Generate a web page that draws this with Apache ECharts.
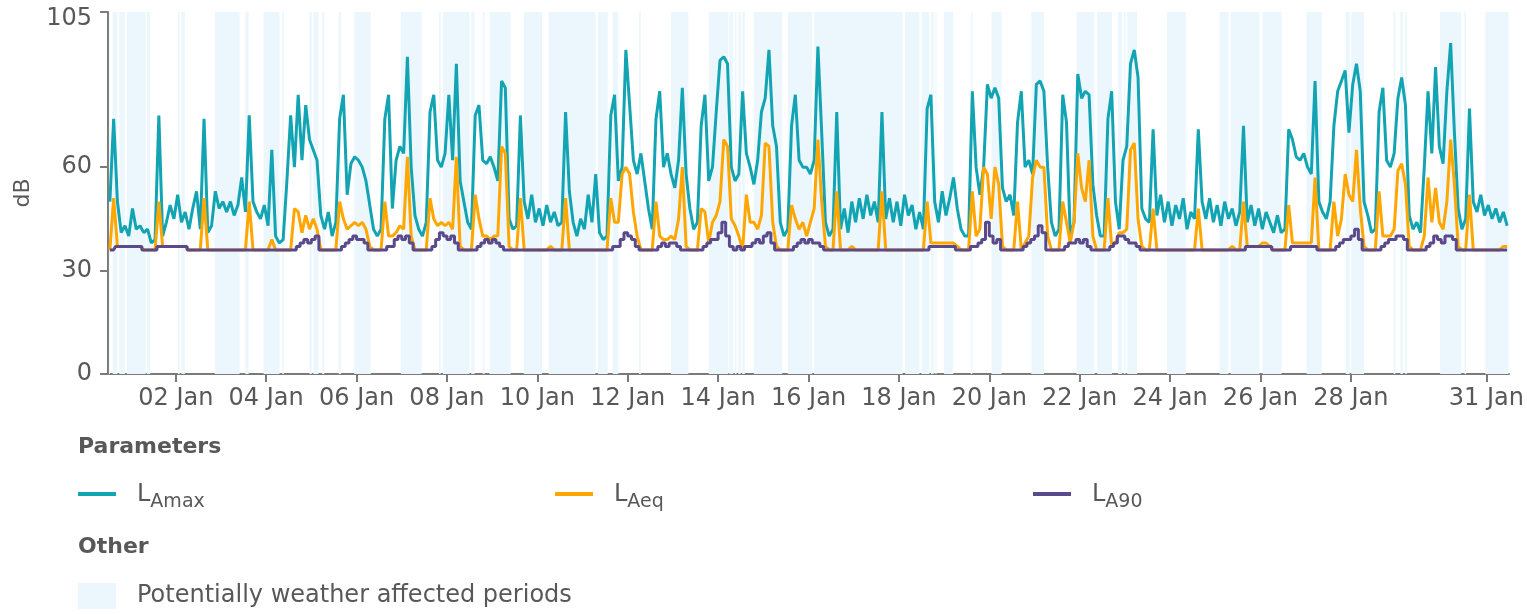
<!DOCTYPE html>
<html>
<head>
<meta charset="utf-8">
<title>Noise levels – January</title>
<script src="https://cdn.jsdelivr.net/npm/echarts@6/dist/echarts.min.js"></script>
<style>
  html, body { margin: 0; padding: 0; background: #fff; }
  #chart { width: 1527px; height: 614px; }
</style>
</head>
<body>
<div id="chart"></div>
<script>
// x axis = hours since 01 Jan 00:00, one value per 2-hour bin (12 per day)
const tickHours = [36, 84, 132, 180, 228, 276, 324, 372, 420, 468, 516, 564, 612, 660, 732];
const tickLabels = ['02 Jan', '04 Jan', '06 Jan', '08 Jan', '10 Jan', '12 Jan', '14 Jan', '16 Jan',
  '18 Jan', '20 Jan', '22 Jan', '24 Jan', '26 Jan', '28 Jan', '31 Jan'];
const yTicks = [0, 30, 60, 105];

const LAmax = [
  50,74,50,41,43,40,48,42,43,41,42,38,
  39,75,40,44,49,45,52,44,47,42,48,53,
  42,74,41,43,53,48,50,47,50,46,49,57,
  47,75,50,47,45,49,43,65,40,38,39,56,
  75,60,81,62,78,68,65,62,46,42,47,40,
  44,74,81,52,61,63,62,60,56,49,42,40,
  42,74,81,48,62,66,64,92,60,46,42,40,
  44,76,81,62,60,64,81,62,90,56,50,44,
  42,75,78,62,61,63,60,56,85,83,45,42,
  43,75,50,45,52,44,48,43,49,44,47,43,
  44,76,53,44,40,45,42,52,44,58,41,39,
  40,75,81,56,60,94,78,62,58,64,56,48,
  42,74,82,60,64,58,54,62,83,58,48,42,
  44,72,81,56,60,76,91,92,90,60,56,58,
  82,64,60,55,62,76,80,94,72,66,44,40,
  42,72,81,62,60,60,58,62,95,70,44,40,
  42,76,42,48,41,50,44,51,45,52,46,50,
  44,76,45,51,44,50,43,52,46,49,42,47,
  42,77,81,50,44,53,46,51,57,48,42,40,
  40,82,60,52,60,84,80,83,80,54,50,52,
  46,73,82,60,62,58,84,85,82,60,44,40,
  42,81,73,40,44,87,80,82,81,55,46,40,
  40,74,82,50,42,62,66,90,94,86,48,45,
  44,71,46,52,44,50,43,49,45,51,42,47,
  45,71,50,45,51,44,49,43,50,45,48,43,
  47,72,44,49,43,48,42,47,44,41,46,41,
  42,71,68,63,62,64,60,58,85,50,47,45,
  50,72,82,85,88,70,84,90,82,50,46,41,
  42,76,83,62,60,64,80,86,78,46,42,44,
  41,60,82,64,89,66,61,82,96,70,48,42,
  45,77,50,47,52,46,49,45,48,44,47,43
];

const LAeq = [
  36,51,37,37,37,37,37,37,37,36,36,36,
  36,50,37,37,37,37,37,37,37,36,36,36,
  36,51,36,36,36,36,36,36,36,36,36,36,
  36,50,36,36,36,36,36,39,36,36,36,36,
  36,48,47,41,46,42,45,42,36,36,36,36,
  36,50,45,42,43,44,43,44,42,37,36,36,
  36,50,40,40,41,43,42,63,40,36,36,36,
  36,51,45,43,44,43,44,42,63,37,36,36,
  36,52,45,40,40,39,40,40,66,64,37,36,
  36,51,36,36,36,36,36,36,36,37,36,36,
  36,51,36,36,36,36,36,36,36,36,36,36,
  36,51,44,44,58,60,58,47,40,36,36,36,
  36,50,40,39,39,40,39,45,60,37,36,36,
  36,48,47,38,44,46,50,68,66,45,43,40,
  36,52,44,44,42,46,67,66,44,37,36,36,
  36,49,45,42,44,40,44,48,68,50,37,36,
  36,53,36,36,36,37,36,36,36,36,36,36,
  36,53,36,36,36,36,36,36,36,36,36,36,
  36,50,38,38,38,38,38,38,38,37,36,36,
  36,53,40,42,60,58,45,60,55,37,36,36,
  36,50,36,38,40,57,62,60,60,40,36,36,
  36,50,44,38,44,64,54,50,62,40,36,36,
  36,51,37,38,41,41,42,65,67,45,37,36,
  36,48,36,36,36,36,36,36,36,36,36,36,
  36,48,36,36,36,36,36,36,36,36,37,36,
  36,50,37,37,37,37,38,38,37,36,36,36,
  36,49,38,38,38,38,38,38,57,36,36,36,
  36,50,40,45,58,52,50,65,48,37,36,36,
  36,53,40,40,40,42,59,61,55,37,36,36,
  36,40,57,44,54,44,42,50,68,55,37,36,
  36,52,36,36,36,36,36,36,36,36,37,37
];

const LA90 = [
  36,36,37,37,37,37,37,37,37,36,36,36,
  36,37,37,37,37,37,37,37,37,36,36,36,
  36,36,36,36,36,36,36,36,36,36,36,36,
  36,36,36,36,36,36,36,36,36,36,36,36,
  36,36,37,38,39,38,39,40,36,36,36,36,
  36,36,37,38,39,40,39,39,38,36,36,36,
  36,36,37,37,39,40,39,40,38,36,36,36,
  36,36,37,39,41,40,39,40,38,36,36,36,
  36,36,37,38,39,38,39,38,37,36,36,36,
  36,36,36,36,36,36,36,36,36,36,36,36,
  36,36,36,36,36,36,36,36,36,36,36,36,
  36,36,37,37,39,41,40,39,37,36,36,36,
  36,36,37,38,37,38,38,37,36,36,36,36,
  36,36,37,38,39,39,41,44,40,37,36,37,
  36,37,37,38,39,38,40,41,38,36,36,36,
  36,36,37,38,39,38,39,38,38,37,36,36,
  36,36,36,36,36,36,36,36,36,36,36,36,
  36,36,36,36,36,36,36,36,36,36,36,36,
  36,36,37,37,37,37,37,37,37,36,36,36,
  36,37,37,38,39,44,40,38,39,36,36,36,
  36,36,36,37,38,39,40,43,41,36,36,36,
  36,36,37,38,38,39,38,39,37,36,36,36,
  36,36,37,38,40,40,39,38,38,37,36,36,
  36,36,36,36,36,36,36,36,36,36,36,36,
  36,36,36,36,36,36,36,36,36,36,36,36,
  36,36,37,37,37,37,37,37,37,36,36,36,
  36,36,37,37,37,37,37,37,37,36,36,36,
  36,36,37,38,39,39,40,42,39,36,36,36,
  36,36,37,38,39,39,40,40,39,36,36,36,
  36,36,37,38,40,39,38,40,40,39,36,36,
  36,36,36,36,36,36,36,36,36,36,36,36
];

// potentially weather affected periods, hours since 01 Jan 00:00
const weatherStart = [0.5, 2.5, 6, 10, 20.6, 37.2, 39, 56.7, 72.9, 82.6, 92.5, 107, 109, 113.7, 122.5,
  130.8, 155.5, 175.8, 177.9, 192.9, 199, 202.6, 220.8, 234, 260.2, 268, 282, 299, 319, 330, 332.9,
  334.7, 336.8, 343, 361, 375, 423.3, 432, 437, 439.3, 444, 458.2, 469.2, 490.3, 514.3, 525.3, 536.4,
  539.4, 541.2, 562.4, 590.3, 596.2, 613.2, 636.5, 657.3, 660.3, 682.7, 686.3, 688.9, 707.4, 720.3, 731.4];
const weatherEnd = [1, 5, 9, 20, 22.5, 38.1, 40.8, 69.9, 74.7, 91.1, 93.4, 108.2, 111.7, 114.9, 123.7,
  139.6, 166.6, 176.7, 192, 194.7, 200, 213.8, 230.5, 258.8, 265.4, 271, 283, 308.2, 329.4, 332, 333.8,
  336, 338.2, 358, 374, 422, 430.9, 436.2, 438.5, 440, 448.9, 459, 474.5, 497, 523.9, 533.2, 538.5,
  540.3, 546.5, 572.4, 595, 611.4, 623.2, 644.5, 659.4, 667, 683.6, 687.7, 689.8, 718.6, 721.2, 743.8];

const FONT = 'DejaVu Sans';
const TEXT = '#585858';
const AXIS = '#7a7a7a';
const COLORS = { max: '#13a4b3', eq: '#ffa600', l90: '#5a4a8b', weather: '#ecf7fd' };

const toPoints = arr => arr.map((v, i) => [i * 2 + 1, v]);

const chart = echarts.init(document.getElementById('chart'));

const subRich = {
  sub: { fontFamily: FONT, fontSize: 19, color: TEXT, padding: [15, 0, 0, 0] }
};
const subNames = { LAmax: 'L{sub|Amax}', LAeq: 'L{sub|Aeq}', LA90: 'L{sub|A90}' };

function paramLegend(name, left) {
  return {
    data: [name],
    left: left,
    top: 483,
    padding: 0,
    icon: 'rect',
    itemWidth: 38,
    itemHeight: 4,
    selectedMode: false,
    formatter: n => subNames[n],
    textStyle: { fontFamily: FONT, fontSize: 24, color: TEXT, padding: [2, 0, 0, 16], rich: subRich }
  };
}

chart.setOption({
  animation: false,
  title: [
    { text: 'Parameters', left: 78, top: 436, padding: 0,
      textStyle: { fontFamily: FONT, fontSize: 22, fontWeight: 'bold', color: TEXT } },
    { text: 'Other', left: 78, top: 536, padding: 0,
      textStyle: { fontFamily: FONT, fontSize: 22, fontWeight: 'bold', color: TEXT } }
  ],
  legend: [
    paramLegend('LAmax', 78),
    paramLegend('LAeq', 555),
    paramLegend('LA90', 1033),
    {
      data: ['Potentially weather affected periods'],
      left: 78,
      top: 583,
      padding: 0,
      icon: 'rect',
      itemWidth: 38,
      itemHeight: 26,
      selectedMode: false,
      textStyle: { fontFamily: FONT, fontSize: 24, color: TEXT, padding: [4, 0, 0, 16] }
    }
  ],
  grid: { left: 108, right: 14, top: 12, bottom: 240 },
  xAxis: {
    type: 'value',
    min: 0,
    max: 744,
    interval: 12,
    axisLine: { show: true, lineStyle: { color: AXIS, width: 2 } },
    axisTick: { show: true, length: 8, customValues: tickHours, lineStyle: { color: AXIS, width: 2 } },
    axisLabel: {
      customValues: tickHours,
      margin: 13,
      fontFamily: FONT, fontSize: 24, color: TEXT,
      formatter: v => tickLabels[tickHours.indexOf(v)] || ''
    },
    splitLine: { show: false }
  },
  yAxis: {
    type: 'value',
    min: 0,
    max: 105,
    interval: 15,
    name: 'dB',
    nameLocation: 'middle',
    nameGap: 74,
    nameTextStyle: { fontFamily: FONT, fontSize: 22, color: TEXT },
    axisLine: { show: true, lineStyle: { color: AXIS, width: 2 } },
    axisTick: { show: true, length: 8, customValues: yTicks, lineStyle: { color: AXIS, width: 2 } },
    axisLabel: {
      customValues: yTicks, margin: 16, fontFamily: FONT, fontSize: 24, color: TEXT,
      // top label sits just below its tick, as in the source
      formatter: v => v === 105 ? '{top|105}' : String(v),
      rich: { top: { fontFamily: FONT, fontSize: 24, color: TEXT, padding: [14, 0, 0, 0] } }
    },
    splitLine: { show: false }
  },
  series: [
    {
      name: 'Potentially weather affected periods',
      type: 'line',
      data: [],
      itemStyle: { color: COLORS.weather },
      lineStyle: { color: COLORS.weather },
      markArea: {
        silent: true,
        itemStyle: { color: COLORS.weather },
        data: weatherStart.map((s, i) => [{ xAxis: s }, { xAxis: weatherEnd[i] }])
      }
    },
    {
      name: 'LAmax', type: 'line', showSymbol: false,
      data: toPoints(LAmax),
      itemStyle: { color: COLORS.max },
      lineStyle: { color: COLORS.max, width: 3 }
    },
    {
      name: 'LAeq', type: 'line', showSymbol: false,
      data: toPoints(LAeq),
      itemStyle: { color: COLORS.eq },
      lineStyle: { color: COLORS.eq, width: 3 }
    },
    {
      name: 'LA90', type: 'line', step: 'middle', showSymbol: false,
      data: toPoints(LA90),
      itemStyle: { color: COLORS.l90 },
      lineStyle: { color: COLORS.l90, width: 3 }
    }
  ]
});
</script>
</body>
</html>
